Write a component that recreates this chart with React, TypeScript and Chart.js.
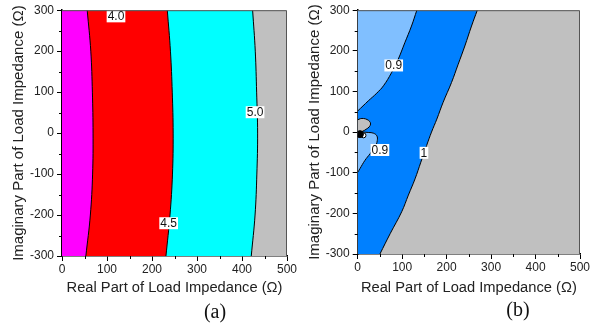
import React, { useEffect, useRef } from "react";
import { Chart, registerables } from "chart.js";
Chart.register(...registerables);

const SANS = "'Liberation Sans', Arial, sans-serif";

// ---------- Panel (a): contour boundaries, x read at each y ----------
const aY = [-300, -200, -100, 0, 100, 200, 300];
const aLevel40X = [53, 63, 68, 69, 67.5, 64, 56];
const aLevel45X = [231, 240, 245.5, 247, 245, 241, 234];
const aLevel50X = [420.6, 429, 433, 434.7, 432.5, 429.5, 423.6];
const aLabels = ["4.0", "4.5", "5.0"];
const aLabelX = [120, 237, 429];
const aLabelY = [285, -220, 51];

// ---------- Panel (b) ----------
const b1Y = [-300, -250, -196, -155, -115, -74, -33, 0, 32, 73, 122, 167, 212, 261, 300];
const b1X = [50, 73, 99, 114, 129, 142, 155, 166, 178, 192, 211, 226, 241, 256, 269];
const b09UpperY = [52, 77, 96, 114, 146, 179, 220, 261, 300];
const b09UpperX = [0, 24, 43, 58, 76, 91, 106, 121, 133];
const b09LowerY = [-99, -90, -70, -53, -37, -21, -9, -2.5, -1, 0];
const b09LowerX = [0, 5, 16, 28, 39, 44, 43, 35, 25, 12];
const bBlobX = [0, 6, 13, 21, 27, 29, 26, 19, 11, 4, 0];
const bBlobY = [30, 33, 33.5, 31, 26, 20, 13, 7, 2, 0, 0];
const bPoleX = [5];
const bPoleY = [-5];
const bRingX = [13];
const bRingY = [-8];
const bLabels = ["0.9", "0.9", "1"];
const bLabelX = [81, 50, 149];
const bLabelY = [164, -44, -51];

const pts = (xs: number[], ys: number[]) => xs.map((x, i) => ({ x, y: ys[i] }));

const panelPlugin = {
  id: "panelDeco",
  beforeDatasetsDraw(chart: any, _a: any, opts: any) {
    const { ctx, chartArea: c } = chart;
    ctx.save();
    ctx.fillStyle = opts.bg;
    ctx.fillRect(c.left, c.top, c.right - c.left, c.bottom - c.top);
    ctx.restore();
  },
  afterDatasetsDraw(chart: any, _a: any, opts: any) {
    const { ctx } = chart;
    const xs = chart.scales.x;
    const ys = chart.scales.y;
    ctx.save();
    ctx.font = `12px ${SANS}`;
    ctx.textAlign = "center";
    ctx.textBaseline = "middle";
    (opts.texts || []).forEach((t: string, i: number) => {
      const px = xs.getPixelForValue(opts.xs[i]);
      const py = ys.getPixelForValue(opts.ys[i]);
      const w = ctx.measureText(t).width + 2;
      ctx.fillStyle = "#fff";
      ctx.fillRect(px - w / 2, py - 6, w, 12);
      ctx.fillStyle = "#111";
      ctx.fillText(t, px, py + 0.5);
    });
    ctx.restore();
  },
  afterDraw(chart: any) {
    const { ctx, chartArea: c } = chart;
    const xs = chart.scales.x;
    const ys = chart.scales.y;
    ctx.save();
    ctx.strokeStyle = "#555";
    ctx.lineWidth = 1;
    ctx.beginPath();
    ctx.moveTo(c.left, c.top + 0.5);
    ctx.lineTo(c.right - 0.5, c.top + 0.5);
    ctx.lineTo(c.right - 0.5, c.bottom);
    ctx.stroke();
    ctx.strokeStyle = "#000";
    ctx.beginPath();
    for (let v = 50; v < 500; v += 100) {
      const px = Math.round(xs.getPixelForValue(v)) + 0.5;
      ctx.moveTo(px, c.bottom);
      ctx.lineTo(px, c.bottom + 3);
    }
    for (let v = -250; v < 300; v += 100) {
      const py = Math.round(ys.getPixelForValue(v)) + 0.5;
      ctx.moveTo(c.left - 3, py);
      ctx.lineTo(c.left, py);
    }
    ctx.stroke();
    ctx.restore();
  },
};

function makeScales(yAxisWidth: number, xAxisHeight: number, yTitlePad: number) {
  const tickFont = { family: SANS, size: 12 };
  const grid = { drawOnChartArea: false, tickLength: 5, tickColor: "#000", tickWidth: 1 };
  return {
    x: {
      type: "linear",
      position: "bottom",
      min: 0,
      max: 500,
      ticks: { stepSize: 100, font: tickFont, color: "#222", padding: 1, maxRotation: 0, autoSkip: false },
      grid,
      border: { color: "#000", width: 1.5 },
      title: {
        display: true,
        text: "Real Part of Load Impedance (Ω)",
        font: { family: SANS, size: 14.7 },
        color: "#222",
        padding: { top: 0, bottom: 32.5 },
      },
      afterFit: (s: any) => {
        s.height = xAxisHeight;
      },
    },
    y: {
      type: "linear",
      position: "left",
      min: -300,
      max: 300,
      ticks: { stepSize: 100, font: tickFont, color: "#222", padding: 3, autoSkip: false },
      grid,
      border: { color: "#000", width: 1.5 },
      title: {
        display: true,
        text: "Imaginary Part of Load Impedance (Ω)",
        font: { family: SANS, size: 15 },
        color: "#222",
        padding: { top: yTitlePad, bottom: 0 },
      },
      afterFit: (s: any) => {
        s.width = yAxisWidth;
      },
    },
  };
}

function regionLine(xs: number[], ys: number[], color: string, order: number, fill: any = { value: 0 }) {
  return {
    type: "line",
    data: pts(xs, ys),
    fill,
    backgroundColor: color,
    borderColor: "#000",
    borderWidth: 1,
    pointRadius: 0,
    tension: 0.4,
    order,
  };
}

function configA() {
  return {
    type: "line",
    data: {
      datasets: [
        regionLine(aLevel40X, aY, "#FF00FF", 1),
        regionLine(aLevel45X, aY, "#FF0000", 2),
        regionLine(aLevel50X, aY, "#00FFFF", 3),
      ],
    },
    options: {
      indexAxis: "y",
      responsive: false,
      animation: false,
      devicePixelRatio: 1,
      events: [],
      layout: { padding: { left: 0, top: 7, right: 13, bottom: 0 } },
      scales: makeScales(62, 73, 10),
      plugins: {
        legend: { display: false },
        tooltip: { enabled: false },
        panelDeco: { bg: "#C0C0C0", texts: aLabels, xs: aLabelX, ys: aLabelY },
      },
    },
    plugins: [panelPlugin],
  };
}

function configB() {
  return {
    type: "line",
    data: {
      datasets: [
        {
          type: "line",
          data: pts(bPoleX, bPoleY),
          showLine: false,
          pointRadius: 3.5,
          pointBackgroundColor: "#000",
          pointBorderColor: "#000",
          order: 0,
        },
        {
          type: "line",
          data: pts(bRingX, bRingY),
          showLine: false,
          pointRadius: 2.5,
          pointBackgroundColor: "#fff",
          pointBorderColor: "#000",
          pointBorderWidth: 1,
          order: 0,
        },
        regionLine(bBlobX, bBlobY, "#C0C0C0", 1, "shape"),
        regionLine(b09LowerX, b09LowerY, "#80BFFF", 2),
        regionLine(b09UpperX, b09UpperY, "#80BFFF", 3),
        regionLine(b1X, b1Y, "#0080FF", 4),
      ],
    },
    options: {
      indexAxis: "y",
      responsive: false,
      animation: false,
      devicePixelRatio: 1,
      events: [],
      layout: { padding: { left: 0, top: 9, right: 21, bottom: 0 } },
      scales: makeScales(57.7, 75, 6),
      plugins: {
        legend: { display: false },
        tooltip: { enabled: false },
        panelDeco: { bg: "#C0C0C0", texts: bLabels, xs: bLabelX, ys: bLabelY },
      },
    },
    plugins: [panelPlugin],
  };
}

function Panel({ makeConfig, left, width }: { makeConfig: () => any; left: number; width: number }) {
  const ref = useRef<HTMLCanvasElement | null>(null);
  useEffect(() => {
    const chart = new Chart(ref.current as HTMLCanvasElement, makeConfig());
    return () => chart.destroy();
  }, []);
  return (
    <canvas
      ref={ref}
      width={width}
      height={329}
      style={{ position: "absolute", left, top: 0, width, height: 329 }}
    />
  );
}

const capStyle: React.CSSProperties = {
  position: "absolute",
  width: 60,
  textAlign: "center",
  fontFamily: "'Liberation Serif', 'Times New Roman', serif",
  fontSize: 20,
  lineHeight: "20px",
  color: "#111",
};

export default function App() {
  return (
    <div style={{ position: "fixed", left: 0, top: 0, width: 601, height: 329, background: "#fff", overflow: "hidden" }}>
      <Panel makeConfig={configA} left={0} width={300} />
      <Panel makeConfig={configB} left={300} width={301} />
      <div style={{ ...capStyle, left: 185, top: 301 }}>(a)</div>
      <div style={{ ...capStyle, left: 488, top: 299 }}>(b)</div>
    </div>
  );
}
